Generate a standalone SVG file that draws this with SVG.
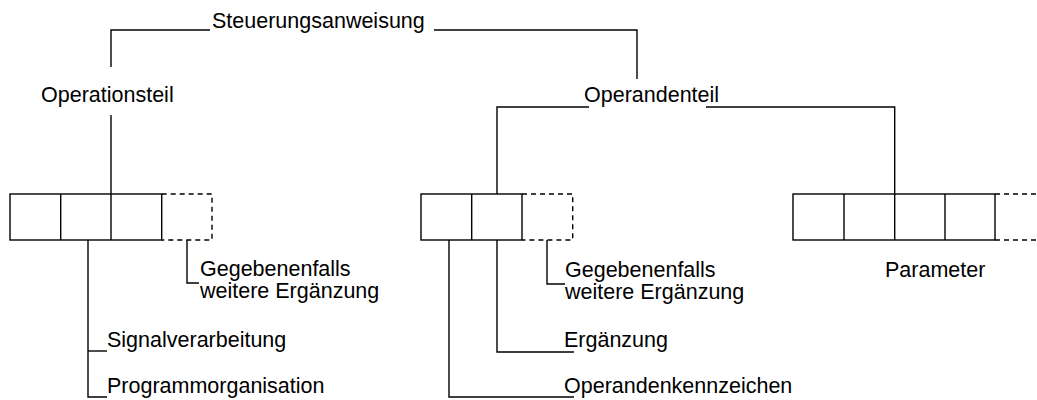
<svg xmlns="http://www.w3.org/2000/svg" width="1037" height="400" viewBox="0 0 1037 400">
<style>
  .ln { fill: none; stroke: #000; stroke-width: 1.4; }
  .dash { fill: none; stroke: #000; stroke-width: 1.4; stroke-dasharray: 5 4; }
  .box { fill: #fff; stroke: #000; stroke-width: 1.4; }
  text { font-family: "Liberation Sans", Arial, sans-serif; font-size: 21.5px; fill: #000; }
</style>
<rect width="1037" height="400" fill="#fff"/>
<g id="connectors">
  <polyline class="ln" points="111,67 111,30 210,30"/>
  <polyline class="ln" points="434,30 637,30 637,79"/>
  <line class="ln" x1="111" y1="115" x2="111" y2="194"/>
  <polyline class="ln" points="589,107 497,107 497,194"/>
  <polyline class="ln" points="706,107 894.7,107 894.7,194"/>
  <polyline class="ln" points="88,240 88,397 107,397"/>
  <line class="ln" x1="88" y1="351" x2="107" y2="351"/>
  <polyline class="ln" points="187,240 187,283 199,283"/>
  <polyline class="ln" points="547,240 547,284 565,284"/>
  <polyline class="ln" points="497,240 497,352 574,352"/>
  <polyline class="ln" points="449,240 449,397 574,397"/>
</g>
<g id="steuerungsanweisung">
  <text x="212" y="28">Steuerungsanweisung</text>
</g>
<g id="operationsteil">
  <text x="41" y="102">Operationsteil</text>
</g>
<g id="operandenteil">
  <text x="584" y="102">Operandenteil</text>
</g>
<g id="boxes-operationsteil">
  <rect class="box" x="10" y="194" width="151.7" height="46"/>
  <line class="ln" x1="60.7" y1="194" x2="60.7" y2="240"/>
  <line class="ln" x1="111" y1="194" x2="111" y2="240"/>
  <path class="dash" d="M161.7,194 H212 V240 H161.7"/>
</g>
<g id="boxes-operandenteil">
  <rect class="box" x="421" y="194" width="101" height="46"/>
  <line class="ln" x1="471.7" y1="194" x2="471.7" y2="240"/>
  <path class="dash" d="M522,194 H572.7 V240 H522"/>
</g>
<g id="boxes-parameter">
  <rect class="box" x="793" y="194" width="202" height="46"/>
  <line class="ln" x1="844" y1="194" x2="844" y2="240"/>
  <line class="ln" x1="894.7" y1="194" x2="894.7" y2="240"/>
  <line class="ln" x1="945" y1="194" x2="945" y2="240"/>
  <path class="dash" d="M995,194 H1037 M995,240 H1037"/>
</g>
<g id="label-gegebenenfalls-1">
  <text x="200" y="276">Gegebenenfalls</text>
  <text x="200" y="298">weitere Ergänzung</text>
</g>
<g id="label-signalverarbeitung">
  <text x="107" y="347">Signalverarbeitung</text>
</g>
<g id="label-programmorganisation">
  <text x="107" y="393">Programmorganisation</text>
</g>
<g id="label-gegebenenfalls-2">
  <text x="565" y="277">Gegebenenfalls</text>
  <text x="565" y="299">weitere Ergänzung</text>
</g>
<g id="label-ergaenzung">
  <text x="564" y="347">Ergänzung</text>
</g>
<g id="label-operandenkennzeichen">
  <text x="564" y="393">Operandenkennzeichen</text>
</g>
<g id="label-parameter">
  <text x="885" y="277">Parameter</text>
</g>
</svg>
